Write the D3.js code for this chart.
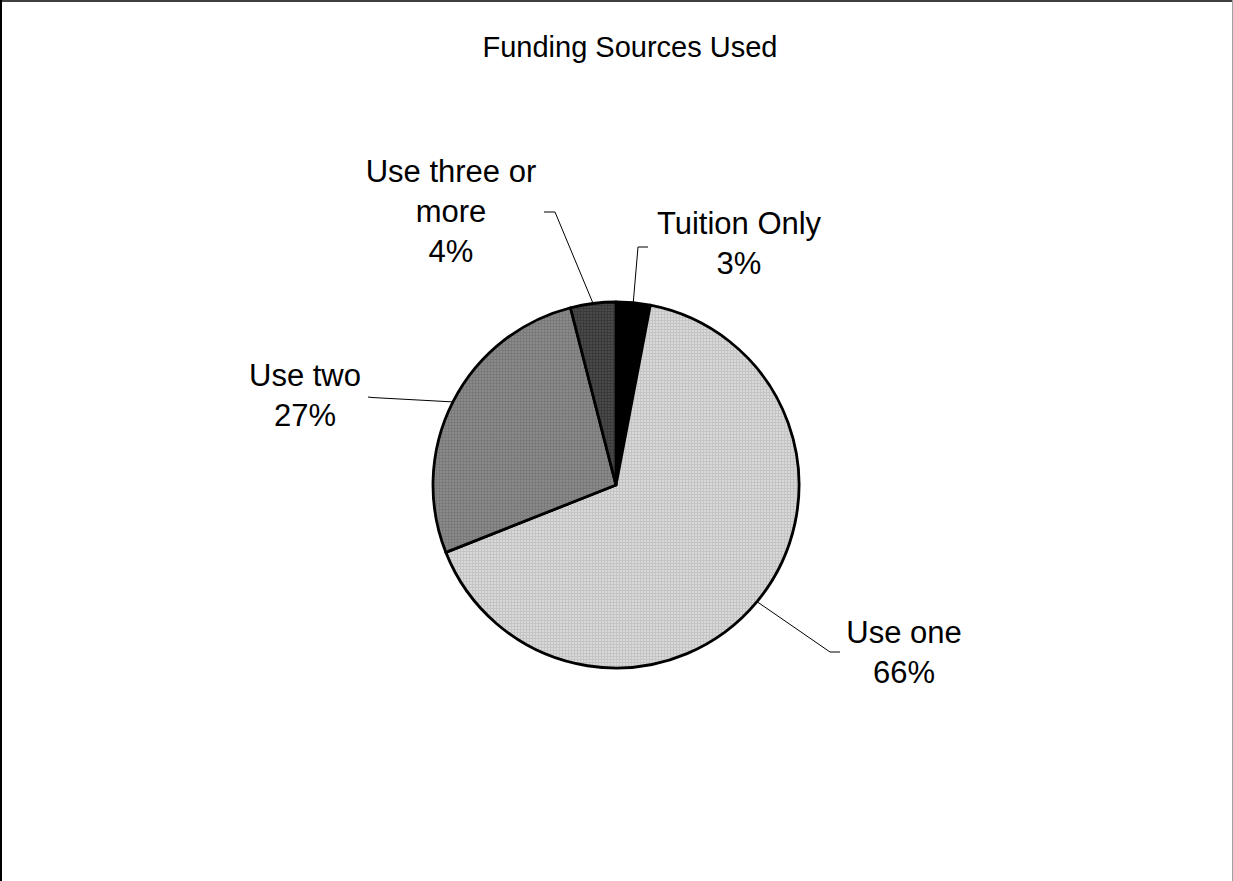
<!DOCTYPE html>
<html>
<head>
<meta charset="utf-8">
<script src="https://cdn.jsdelivr.net/npm/d3@7"></script>
<style>
  html, body { margin: 0; padding: 0; background: #fff; }
  svg { display: block; }
  text { font-family: "Liberation Sans", Arial, sans-serif; fill: #000; }
</style>
</head>
<body>
<svg id="chart" width="1233" height="881"></svg>
<script>
// Chart data
const title = "Funding Sources Used";
const categories = ["Tuition Only", "Use one", "Use two", "Use three or more"];
const values = [3, 66, 27, 4];
const labelLines = [["Tuition Only", "3%"], ["Use one", "66%"], ["Use two", "27%"], ["Use three or", "more", "4%"]];

// Layout
const W = 1233, H = 881;
const cx = 616, cy = 485, radius = 183;
const labelFont = 31, lineGap = 40;
// label block centre-x, first-baseline y, and the elbow where the leader meets the text
const labelPos = [
  { x: 739, y: 234, elbow: [[648, 247], [638, 247]] },
  { x: 904, y: 643, elbow: [[840, 652], [830, 652]] },
  { x: 305, y: 386, elbow: [[368, 397], [372, 397.5]] },
  { x: 451, y: 182, elbow: [[544, 212], [555, 212]] }
];

const svg = d3.select("#chart");
const defs = svg.append("defs");

// Fine dithered textures for the slices
function texture(id, base, dot) {
  const p = defs.append("pattern").attr("id", id)
    .attr("patternUnits", "userSpaceOnUse").attr("width", 3).attr("height", 3);
  p.append("rect").attr("width", 3).attr("height", 3).attr("fill", base);
  p.append("rect").attr("x", 0).attr("y", 0).attr("width", 3).attr("height", 1).attr("fill", dot);
  p.append("rect").attr("x", 0).attr("y", 0).attr("width", 1).attr("height", 3).attr("fill", dot);
}
texture("t1", "#d9d9d9", "#c4c4c4");
texture("t2", "#8a8a8a", "#7a7a7a");
texture("t3", "#4a4a4a", "#3a3a3a");
const fills = ["#000000", "url(#t1)", "url(#t2)", "url(#t3)"];

// Frame
svg.append("rect").attr("x", 0).attr("y", 0).attr("width", W).attr("height", H).attr("fill", "#fff");
svg.append("line").attr("x1", 0).attr("x2", W).attr("y1", 1).attr("y2", 1).attr("stroke", "#404040").attr("stroke-width", 2);
svg.append("line").attr("x1", 1).attr("x2", 1).attr("y1", 0).attr("y2", H).attr("stroke", "#000").attr("stroke-width", 2);
svg.append("line").attr("x1", W - 0.5).attr("x2", W - 0.5).attr("y1", 0).attr("y2", H).attr("stroke", "#a0a0a0").attr("stroke-width", 1);

// Title
svg.append("text").attr("x", 630).attr("y", 57).attr("text-anchor", "middle")
  .attr("font-size", 29).text(title);

// Pie
const pie = d3.pie().sort(null).value(d => d)(values);
const arc = d3.arc().innerRadius(0).outerRadius(radius);
const g = svg.append("g").attr("transform", `translate(${cx},${cy})`);
g.selectAll("path.slice").data(pie).join("path")
  .attr("class", "slice")
  .attr("d", arc)
  .attr("fill", (d, i) => fills[i])
  .attr("stroke", "#000").attr("stroke-width", 2.8).attr("stroke-linejoin", "round");

// Leader lines from each slice's mid-angle on the rim
const leader = d3.line();
pie.forEach((d, i) => {
  const a = (d.startAngle + d.endAngle) / 2;
  const rim = [cx + radius * Math.sin(a), cy - radius * Math.cos(a)];
  const pts = [rim, labelPos[i].elbow[1], labelPos[i].elbow[0]];
  svg.append("path").attr("d", leader(pts)).attr("fill", "none")
    .attr("stroke", "#000").attr("stroke-width", 1);
});

// Labels
labelLines.forEach((lines, i) => {
  const t = svg.append("text").attr("text-anchor", "middle").attr("font-size", labelFont);
  lines.forEach((s, k) => {
    t.append("tspan").attr("x", labelPos[i].x).attr("y", labelPos[i].y + k * lineGap).text(s);
  });
});
</script>
</body>
</html>
